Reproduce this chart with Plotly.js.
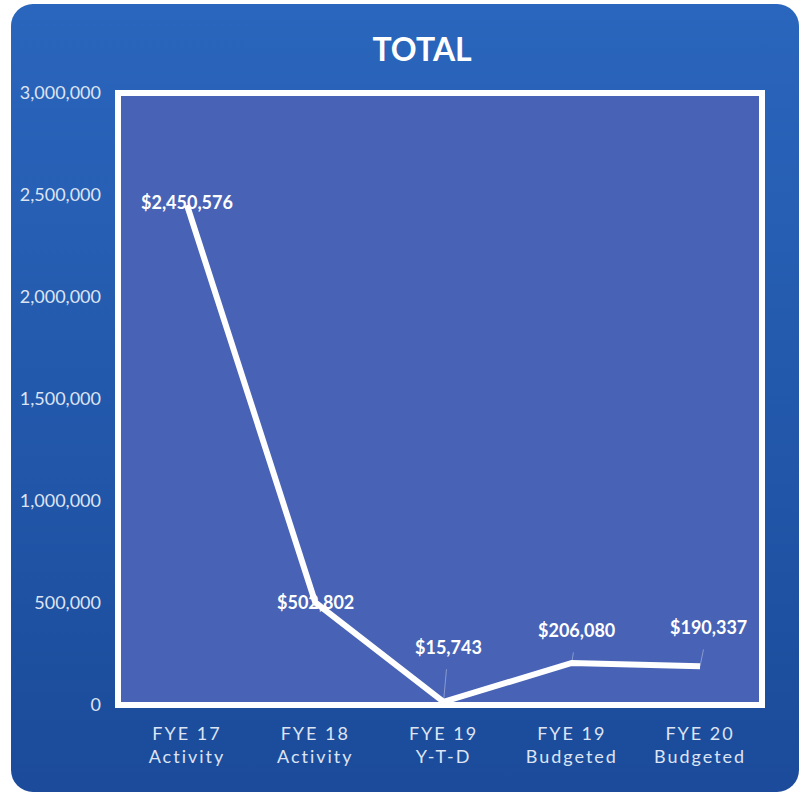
<!DOCTYPE html>
<html>
<head>
<meta charset="utf-8">
<script src="https://cdn.plot.ly/plotly-3.0.1.min.js"></script>
<style>
  html, body { margin: 0; padding: 0; background: #ffffff; }
  #bg { position: absolute; left: 11px; top: 4px; width: 788px; height: 788px;
        border-radius: 22px; background: linear-gradient(#2a66bd, #1b4b9a); }
  #chart { position: absolute; left: 0; top: 0; width: 804px; height: 794px; }
  .xtick text { letter-spacing: 2px; }
</style>
</head>
<body>
<div id="bg"></div>
<div id="chart"></div>
<script>
const categories = ["FYE 17<br>Activity", "FYE 18<br>Activity", "FYE 19<br>Y-T-D", "FYE 19<br>Budgeted", "FYE 20<br>Budgeted"];
const totals = [2450576, 502802, 15743, 206080, 190337];
const valueLabels = ["$2,450,576", "$502,802", "$15,743", "$206,080", "$190,337"];
const labelOffsetX = [0, 0, 5, 5, 8];
const labelOffsetY = [-3, 0, -55, -33, -39];

const xIdx = categories.map((c, i) => i);

const trace = {
  x: xIdx,
  y: totals,
  type: "scatter",
  mode: "lines",
  line: { color: "#ffffff", width: 6 },
  hoverinfo: "skip"
};

const annotations = xIdx.map((xi, i) => ({
  x: xi, y: totals[i], xref: "x", yref: "y",
  text: valueLabels[i],
  showarrow: true, arrowhead: 0, arrowwidth: 1,
  arrowcolor: "rgba(255,255,255,0.35)",
  ax: labelOffsetX[i], ay: labelOffsetY[i], standoff: 0, startstandoff: 10,
  font: { family: "Lato, 'Open Sans', sans-serif", size: 18, color: "#ffffff", weight: 700 }
}));

const layout = {
  width: 804, height: 794,
  paper_bgcolor: "rgba(0,0,0,0)",
  plot_bgcolor: "#4863b6",
  margin: { l: 118, r: 42, t: 93, b: 89 },
  showlegend: false,
  title: {
    text: "<b>TOTAL</b>",
    x: 0.525, xref: "container", xanchor: "center",
    y: 0.937, yref: "container", yanchor: "middle",
    font: { family: "Lato, 'Open Sans', sans-serif", size: 32, color: "#ffffff" }
  },
  xaxis: {
    range: [-0.538, 4.483],
    tickmode: "array", tickvals: xIdx, ticktext: categories,
    showgrid: false, zeroline: false, showline: false, ticks: "",
    ticklabelstandoff: 16,
    tickfont: { family: "Lato, 'Open Sans', sans-serif", size: 18, color: "#dde4f3" }
  },
  yaxis: {
    range: [0, 3000000],
    dtick: 500000, tickformat: ",d",
    showgrid: false, zeroline: false, showline: false, ticks: "",
    ticklabelstandoff: 16,
    tickfont: { family: "Lato, 'Open Sans', sans-serif", size: 18, color: "#dde4f3" }
  },
  shapes: [{
    type: "rect", xref: "paper", yref: "paper", x0: 0, x1: 1, y0: 0, y1: 1,
    line: { color: "#ffffff", width: 6 }, layer: "above"
  }],
  annotations: annotations
};

Plotly.newPlot("chart", [trace], layout, { displayModeBar: false, staticPlot: true });
</script>
</body>
</html>
